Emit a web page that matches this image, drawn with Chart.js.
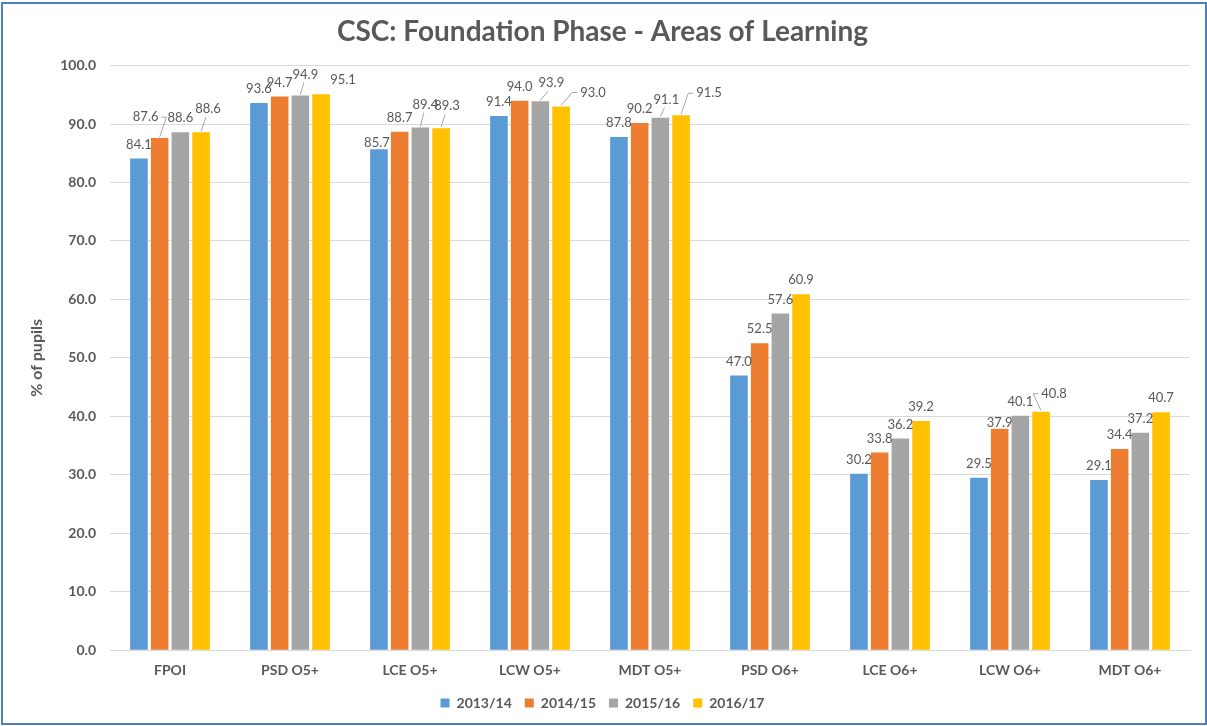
<!DOCTYPE html>
<html>
<head>
<meta charset="utf-8">
<script src="https://cdn.jsdelivr.net/npm/chart.js@4.4.1/dist/chart.umd.min.js"></script>
<style>
    html, body { margin: 0; padding: 0; background: #fff; }
    #wrap { position: relative; width: 1207px; height: 726px; }
</style>
</head>
<body>
<div id="wrap"><canvas id="aolChart" width="1207" height="726"></canvas></div>
<script>
const categories = ['FPOI', 'PSD O5+', 'LCE O5+', 'LCW O5+', 'MDT O5+', 'PSD O6+', 'LCE O6+', 'LCW O6+', 'MDT O6+'];
const years = ['2013/14', '2014/15', '2015/16', '2016/17'];
const y2013 = [84.1, 93.6, 85.7, 91.4, 87.8, 47.0, 30.2, 29.5, 29.1];
const y2014 = [87.6, 94.7, 88.7, 94.0, 90.2, 52.5, 33.8, 37.9, 34.4];
const y2015 = [88.6, 94.9, 89.4, 93.9, 91.1, 57.6, 36.2, 40.1, 37.2];
const y2016 = [88.6, 95.1, 89.3, 93.0, 91.5, 60.9, 39.2, 40.8, 40.7];
const colours = ['#5B9BD5', '#ED7D31', '#A5A5A5', '#FFC000'];

const textGrey = '#595959';
const fontFamily = 'Lato, "Open Sans", sans-serif';

// label nudges (dx, dy, leader line) where labels were moved apart in the original
// key is "series-category"
const labelNudge = {
    '1-0': [-14, -7, true],
    '3-0': [7, -9, true],
    '2-1': [5, -7, true],
    '3-1': [22, 0, false],
    '0-2': [-2, 8, false],
    '2-2': [5, -9, true],
    '3-2': [6, -8, true],
    '2-3': [11, -4, true],
    '3-3': [32, 0, true],
    '2-4': [6, -4, true],
    '3-4': [28, -8, true],
    '1-7': [0, 8, false],
    '3-7': [13, -4, true]
};

// value labels drawn above every bar
const barLabels = {
    id: 'barLabels',
    afterDatasetsDraw(chart) {
        const ctx = chart.ctx;
        ctx.save();
        ctx.font = '13px ' + fontFamily;
        ctx.textAlign = 'center';
        ctx.textBaseline = 'middle';
        chart.data.datasets.forEach((ds, i) => {
            chart.getDatasetMeta(i).data.forEach((bar, j) => {
                const txt = ds.data[j].toFixed(1);
                const n = labelNudge[i + '-' + j] || [0, 0, false];
                const x = bar.x + n[0];
                const y = bar.y - 14 + n[1];
                if (n[2]) {
                    const half = ctx.measureText(txt).width / 2;
                    ctx.strokeStyle = '#A6A6A6';
                    ctx.lineWidth = 1;
                    ctx.beginPath();
                    ctx.moveTo(bar.x, bar.y - 1);
                    if (Math.abs(n[0]) > 12) {
                        const side = x - Math.sign(n[0]) * (half + 3);
                        ctx.lineTo(side - Math.sign(n[0]) * 5, y);
                        ctx.lineTo(side, y);
                    } else {
                        ctx.lineTo(x - n[0] * 0.3, y + 8);
                    }
                    ctx.stroke();
                }
                ctx.fillStyle = textGrey;
                ctx.fillText(txt, x, y);
            });
        });
        ctx.restore();
    }
};

// thin blue frame round the whole chart
const frame = {
    id: 'frame',
    afterDraw(chart) {
        const ctx = chart.ctx;
        ctx.save();
        ctx.strokeStyle = '#4F7EC1';
        ctx.lineWidth = 2;
        ctx.strokeRect(2, 3, chart.width - 3, chart.height - 5);
        ctx.restore();
    }
};

const ctx = document.getElementById('aolChart').getContext('2d');
new Chart(ctx, {
    type: 'bar',
    data: {
        labels: categories,
        datasets: [y2013, y2014, y2015, y2016].map((vals, i) => ({
            label: years[i],
            data: vals,
            backgroundColor: colours[i],
            borderWidth: 0,
            categoryPercentage: 0.69,
            barPercentage: 0.85
        }))
    },
    options: {
        responsive: false,
        animation: false,
        layout: { padding: { top: 10, left: 15, right: 17, bottom: 6 } },
        plugins: {
            title: {
                display: true,
                text: 'CSC: Foundation Phase - Areas of Learning',
                color: textGrey,
                font: { family: fontFamily, size: 28, weight: 'bold' },
                padding: { top: 5, bottom: 17 }
            },
            legend: {
                position: 'bottom',
                labels: {
                    color: textGrey,
                    font: { family: fontFamily, size: 14, weight: 'bold' },
                    boxWidth: 9,
                    boxHeight: 9,
                    padding: 13
                }
            },
            tooltip: { enabled: false }
        },
        scales: {
            x: {
                grid: { display: false },
                border: { color: '#D9D9D9' },
                ticks: {
                    color: textGrey,
                    font: { family: fontFamily, size: 14, weight: 'bold' },
                    padding: 4
                }
            },
            y: {
                min: 0,
                max: 100,
                grid: { color: '#D9D9D9', drawTicks: false },
                border: { display: false },
                ticks: {
                    stepSize: 10,
                    padding: 14,
                    color: textGrey,
                    font: { family: fontFamily, size: 14, weight: 'bold' },
                    callback: v => v.toFixed(1)
                },
                title: {
                    display: true,
                    text: '% of pupils',
                    color: textGrey,
                    font: { family: fontFamily, size: 16, weight: 'bold' },
                    padding: { top: 12, bottom: 0 }
                }
            }
        }
    },
    plugins: [barLabels, frame]
});
</script>
</body>
</html>
